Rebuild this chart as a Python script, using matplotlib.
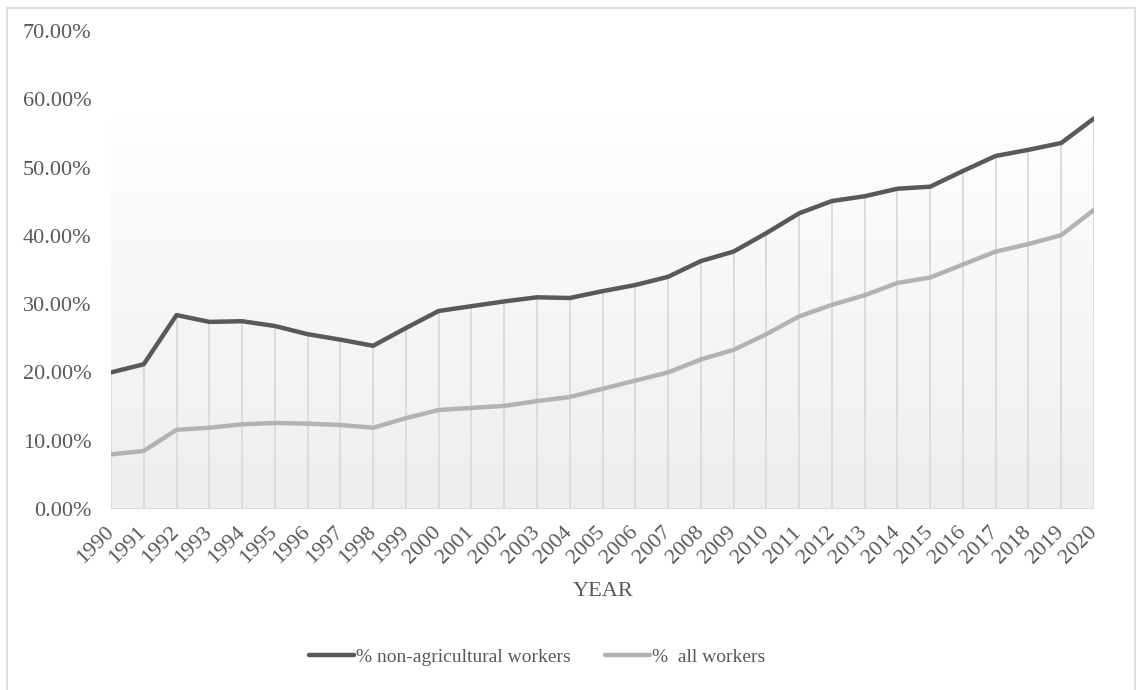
import numpy as np
import matplotlib.pyplot as plt
import matplotlib.ticker as ticker
from matplotlib.patches import Rectangle
from matplotlib.colors import LinearSegmentedColormap

years = list(range(1990, 2021))

# share of workers, %
non_agri = [20.0, 21.2, 28.4, 27.4, 27.5, 26.8, 25.6, 24.8, 23.9, 26.5,
            29.0, 29.7, 30.4, 31.0, 30.9, 31.9, 32.8, 34.0, 36.3, 37.7,
            40.4, 43.3, 45.1, 45.8, 46.9, 47.2, 49.5, 51.7, 52.6, 53.6,
            57.2]
all_workers = [8.0, 8.5, 11.6, 11.9, 12.4, 12.6, 12.5, 12.3, 11.9, 13.3,
               14.5, 14.8, 15.1, 15.8, 16.4, 17.6, 18.8, 20.0, 21.9, 23.3,
               25.6, 28.2, 29.9, 31.3, 33.1, 33.9, 35.8, 37.7, 38.8, 40.1,
               43.8]

y_ticks = [0, 10, 20, 30, 40, 50, 60, 70]

plt.rcParams['font.family'] = ['Liberation Serif', 'DejaVu Serif']
text_col = '#595959'

fig = plt.figure(figsize=(11.38, 6.9), dpi=100)
ax = fig.add_axes([111 / 1138, 1 - 509 / 690, (1094 - 111) / 1138, (509 - 31) / 690])

# outer chart border
fig.patches.append(Rectangle((7 / 1138, -0.05), (1135 - 7) / 1138, 1 - 8 / 690 + 0.05,
                             transform=fig.transFigure, fill=False,
                             edgecolor='#d9d9d9', linewidth=1.2))

top = max(non_agri)
cmap = LinearSegmentedColormap.from_list('bg', ['#eeeeee', '#fefefe'])
grad = np.linspace(0, 1, 256).reshape(-1, 1)
ax.imshow(grad, cmap=cmap, origin='lower', aspect='auto',
          extent=[years[0], years[-1], 0, top], zorder=0)

# drop lines from the upper series to the axis
ax.vlines(years, 0, non_agri, color='#dcdcdc', linewidth=1.4, zorder=1)
ax.axhline(0, color='#d9d9d9', linewidth=1.4, zorder=1)

ax.plot(years, non_agri, color='#595959', linewidth=3.2, zorder=3,
        solid_capstyle='round', label='% non-agricultural workers')
ax.plot(years, all_workers, color='#b3b3b3', linewidth=3.2, zorder=2,
        solid_capstyle='round', label='%  all workers')

ax.set_xlim(years[0], years[-1])
ax.set_ylim(0, 70)
ax.set_xticks(years)
ax.set_xticklabels([str(y) for y in years], rotation=45, ha='right', va='center',
                   rotation_mode='anchor', fontsize=16, color=text_col)
ax.set_yticks(y_ticks)
ax.yaxis.set_major_formatter(ticker.FuncFormatter(lambda v, p: f'{v:.2f}%'))
ax.tick_params(axis='y', length=0, pad=14, labelsize=16, labelcolor=text_col)
ax.tick_params(axis='x', length=0, pad=15)

for s in ax.spines.values():
    s.set_visible(False)

fig.text(603 / 1138, 1 - 591 / 690, 'YEAR', ha='center', va='center',
         fontsize=16, color=text_col)

fig.legend(loc='center', bbox_to_anchor=(537 / 1138, 1 - 657 / 690), ncol=2,
           frameon=False, fontsize=14, labelcolor=text_col, handlelength=2.3,
           handletextpad=0.1, columnspacing=1.8)

fig.savefig('out.png', dpi=100, facecolor='white')
